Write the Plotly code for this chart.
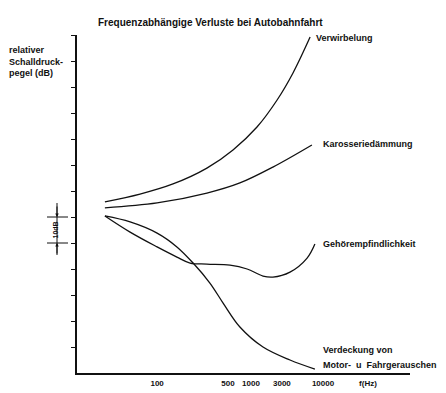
import plotly.graph_objects as go

# Position along the (hand-drawn) frequency axis, arbitrary units, and relative level in dB
verw_x = [9.3, 21, 32, 43.3, 52, 60, 66.7, 72, 77.7]
verw_y = [65.8, 68.8, 72.7, 78.8, 85.8, 94.6, 105, 115.4, 129.2]

karo_x = [9.3, 26.7, 43.3, 54.3, 65.3, 78.3]
karo_y = [63.5, 65.4, 69.2, 73.1, 79.2, 87.7]

geh_x = [9.3, 17.7, 26.7, 33.3, 37.7, 43.3, 51, 56.7, 62, 65.3, 71, 76.7, 79.3]
geh_y = [60.4, 54.2, 48.5, 44.6, 42.3, 41.9, 41.5, 40, 37.3, 36.9, 38.8, 44.2, 49.6]

verd_x = [9.3, 17.7, 26.7, 33.3, 38.7, 44.3, 48.7, 54.3, 62, 71, 79.3]
verd_y = [60.4, 58.1, 53.8, 48.5, 42.3, 34.6, 26.9, 17.7, 10, 5, 1.5]

tick_pos = [26.7, 50.3, 58, 68.3, 82, 97]
tick_text = ["100", "500", "1000", "3000", "10000", "f(Hz)"]

y_ticks = [10, 20, 30, 40, 50, 60, 70, 80, 90, 100, 110, 120, 130]

FONT = "Liberation Sans"
INK = "#111111"

fig = go.Figure()
for xs, ys in [(verw_x, verw_y), (karo_x, karo_y), (geh_x, geh_y), (verd_x, verd_y)]:
    fig.add_trace(go.Scatter(x=xs, y=ys, mode="lines", line=dict(color=INK, width=1.3, shape="spline", smoothing=1.0),
                             showlegend=False, hoverinfo="skip"))

# page body has an 8px margin, so the figure is 8px smaller than the window
fig.update_layout(
    width=438, height=385,
    margin=dict(l=69, r=36, t=27, b=20, autoexpand=False),
    paper_bgcolor="white", plot_bgcolor="white",
    font=dict(family=FONT, color=INK, size=9),
    xaxis=dict(range=[0, 111], showgrid=False, zeroline=False, showline=True, linecolor=INK, linewidth=1.5,
               tickmode="array", tickvals=tick_pos, ticktext=[f"<b>{t}</b>" for t in tick_text],
               ticks="", tickfont=dict(size=8, family=FONT, color=INK), ticklabelstandoff=2, automargin=False),
    yaxis=dict(range=[0, 130], showgrid=False, zeroline=False, showline=True, linecolor=INK, linewidth=1.5,
               tickmode="array", tickvals=y_ticks, showticklabels=False, automargin=False,
               ticks="outside", ticklen=4, tickwidth=1.2, tickcolor=INK),
)

def lab(x, y, text, size=9):
    fig.add_annotation(x=x, y=y, xref="x", yref="y", text=f"<b>{text}</b>", showarrow=False,
                       xanchor="left", yanchor="middle", align="left", font=dict(size=size, family=FONT, color=INK))

lab(79.0, 128.8, "Verwirbelung")
lab(81.2, 88.1, "Karosseriedämmung")
lab(81.2, 49.6, "Gehörempfindlichkeit")
lab(81.2, 8.8, "Verdeckung von")
lab(81.2, 3.1, "Motor-\u00a0\u00a0u\u00a0\u00a0Fahrgerauschen")

def px(xp):
    return (xp - 77) / 333

def py(yp):
    return (373 - yp) / 338

fig.add_annotation(x=px(8), y=py(62), xref="paper", yref="paper", showarrow=False, xanchor="left", yanchor="middle",
                   align="left", text="<b>relativer</b><br><b>Schalldruck-</b><br><b>pegel (dB)</b>",
                   font=dict(size=9, family=FONT, color=INK), borderpad=0)

fig.add_annotation(x=px(210), y=py(15), xref="paper", yref="paper", showarrow=False,
                   text="<b>Frequenzabhängige Verluste bei Autobahnfahrt</b>", font=dict(size=10, family=FONT, color=INK))

# 10 dB scale marker
fig.add_shape(type="line", xref="paper", yref="paper", x0=px(57), x1=px(57), y0=py(203), y1=py(255),
              line=dict(color=INK, width=1))
for yy in (217, 243):
    fig.add_shape(type="line", xref="paper", yref="paper", x0=px(47), x1=px(68), y0=py(yy), y1=py(yy),
                  line=dict(color=INK, width=1))
fig.add_annotation(x=px(57), y=py(217), xref="paper", yref="paper", ax=0, ay=-12, showarrow=True,
                   arrowhead=2, arrowsize=0.7, arrowwidth=1, arrowcolor=INK, text="")
fig.add_annotation(x=px(57), y=py(243), xref="paper", yref="paper", ax=0, ay=12, showarrow=True,
                   arrowhead=2, arrowsize=0.7, arrowwidth=1, arrowcolor=INK, text="")
fig.add_annotation(x=px(51), y=py(230), xref="paper", yref="paper", showarrow=False, textangle=-90,
                   text="<b>10dB</b>", font=dict(size=7, family=FONT, color=INK), borderpad=0)

fig.write_html("out.html")
